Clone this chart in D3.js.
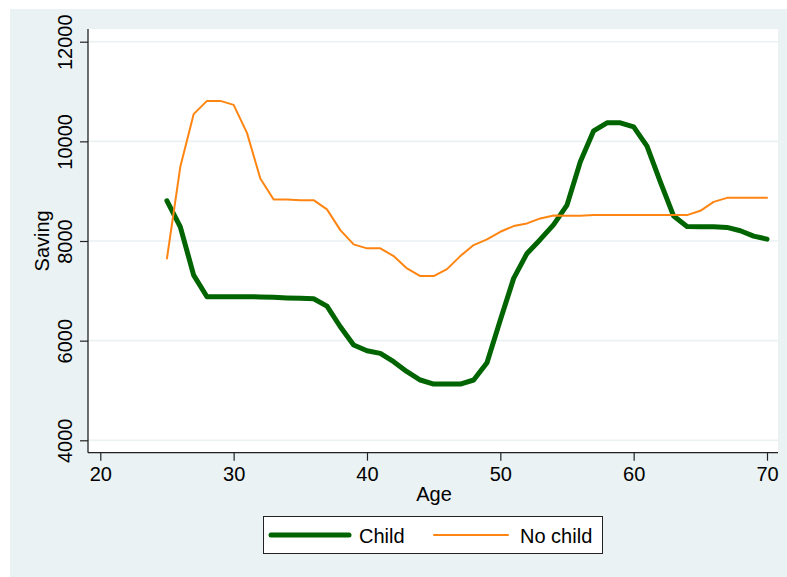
<!DOCTYPE html>
<html>
<head>
<meta charset="utf-8">
<script src="https://cdn.jsdelivr.net/npm/d3@7"></script>
<style>
  body { margin: 0; background: #fff; }
  text { font-family: "Liberation Sans", Arial, sans-serif; fill: #000; }
</style>
</head>
<body>
<div id="plot"></div>
<script>
// ages 25..70, one point per year
var ages = d3.range(25, 71);

var childSaving = [8806, 8285, 7316, 6881, 6880, 6880, 6880, 6878, 6870, 6858,
  6849, 6842, 6694, 6279, 5912, 5797, 5745, 5577, 5376, 5210,
  5129, 5129, 5129, 5210, 5557, 6413, 7250, 7751, 8032, 8330,
  8720, 9589, 10211, 10371, 10371, 10291, 9904, 9188, 8500, 8290,
  8285, 8285, 8273, 8205, 8098, 8038];

var noChildSaving = [7651, 9489, 10546, 10812, 10812, 10732, 10170, 9256, 8834, 8834,
  8820, 8820, 8634, 8219, 7932, 7852, 7852, 7697, 7450, 7296,
  7296, 7436, 7697, 7918, 8032, 8185, 8299, 8353, 8453, 8510,
  8506, 8506, 8520, 8520, 8520, 8520, 8520, 8520, 8520, 8520,
  8606, 8786, 8866, 8866, 8866, 8866];

var xTicks = [20, 30, 40, 50, 60, 70];
var yTicks = [4000, 6000, 8000, 10000, 12000];

var seriesNames = ["Child", "No child"];
var seriesColors = ["#006400", "#ff8512"];
var seriesWidths = [5, 2];

var svgWidth = 787;
var svgHeight = 577;

// plot box
var plot = { left: 88, right: 778, top: 29, bottom: 452.7 };

var svg = d3.select("#plot")
  .append("svg")
  .attr("width", svgWidth)
  .attr("height", svgHeight);

// graph region background
svg.append("rect")
  .attr("x", 10).attr("y", 9)
  .attr("width", svgWidth - 10).attr("height", svgHeight - 9)
  .attr("fill", "#eaf2f3");

svg.append("rect")
  .attr("x", plot.left).attr("y", plot.top)
  .attr("width", plot.right - plot.left).attr("height", plot.bottom - plot.top)
  .attr("fill", "#fff");

var x = d3.scaleLinear().domain([20, 70]).range([100.3, 767]);
var y = d3.scaleLinear().domain([4000, 12000]).range([440.3, 41.7]);

// grid lines
svg.append("g")
  .selectAll("line")
  .data(yTicks)
  .enter()
  .append("line")
  .attr("x1", plot.left).attr("x2", plot.right)
  .attr("y1", d => y(d)).attr("y2", d => y(d))
  .attr("stroke", "#eaf2f3")
  .attr("stroke-width", 1.6);

// series lines
var line = d3.line()
  .x((d, i) => x(ages[i]))
  .y(d => y(d));

[childSaving, noChildSaving].forEach((s, k) => {
  svg.append("path")
    .datum(s)
    .attr("d", line)
    .attr("fill", "none")
    .attr("stroke", seriesColors[k])
    .attr("stroke-width", seriesWidths[k])
    .attr("stroke-linejoin", "round")
    .attr("stroke-linecap", "round");
});

// axes
var bottomAxis = d3.axisBottom(x).tickValues(xTicks).tickSize(8).tickFormat(d3.format("d"));
var leftAxis = d3.axisLeft(y).tickValues(yTicks).tickSize(8).tickFormat(d3.format("d"));

var xg = svg.append("g")
  .attr("transform", `translate(0, ${plot.bottom})`)
  .call(bottomAxis);
xg.select(".domain").remove();
xg.selectAll("line").attr("stroke", "#222").attr("stroke-width", 1.2);
xg.selectAll("text")
  .attr("y", 28).attr("dy", 0)
  .style("font-size", "20px");

var yg = svg.append("g")
  .attr("transform", `translate(${plot.left}, 0)`)
  .call(leftAxis);
yg.select(".domain").remove();
yg.selectAll("line").attr("stroke", "#222").attr("stroke-width", 1.2);
yg.selectAll("text")
  .attr("x", 0).attr("y", 0).attr("dy", 0)
  .attr("text-anchor", "middle")
  .attr("transform", "translate(-16,0) rotate(-90)")
  .style("font-size", "20px");

// axis lines
svg.append("line")
  .attr("x1", plot.left).attr("x2", plot.left)
  .attr("y1", plot.top).attr("y2", plot.bottom)
  .attr("stroke", "#222").attr("stroke-width", 1.3);
svg.append("line")
  .attr("x1", plot.left).attr("x2", plot.right)
  .attr("y1", plot.bottom).attr("y2", plot.bottom)
  .attr("stroke", "#222").attr("stroke-width", 1.3);

// axis titles
svg.append("text")
  .attr("transform", `translate(49, ${(plot.top + plot.bottom) / 2}) rotate(-90)`)
  .attr("text-anchor", "middle")
  .style("font-size", "20px")
  .text("Saving");

svg.append("text")
  .attr("x", 434).attr("y", 501)
  .attr("text-anchor", "middle")
  .style("font-size", "20px")
  .text("Age");

// legend
var legend = svg.append("g");
legend.append("rect")
  .attr("x", 263.5).attr("y", 516.5)
  .attr("width", 339).attr("height", 37)
  .attr("fill", "#fff")
  .attr("stroke", "#222")
  .attr("stroke-width", 1);

var legendLineX = [[271, 349], [434, 508]];
var legendTextX = [359, 520];
seriesNames.forEach((name, k) => {
  legend.append("line")
    .attr("x1", legendLineX[k][0]).attr("x2", legendLineX[k][1])
    .attr("y1", 535).attr("y2", 535)
    .attr("stroke", seriesColors[k])
    .attr("stroke-width", seriesWidths[k])
    .attr("stroke-linecap", "round");
  legend.append("text")
    .attr("x", legendTextX[k]).attr("y", 543)
    .style("font-size", "20px")
    .text(name);
});
</script>
</body>
</html>
